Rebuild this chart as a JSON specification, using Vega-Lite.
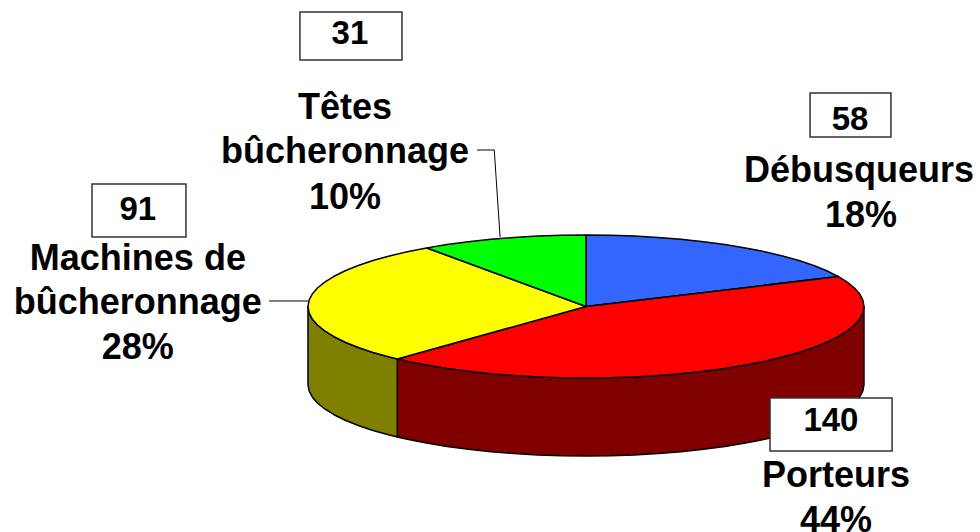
{
"$schema":"https://vega.github.io/schema/vega-lite/v6.json",
"width":980,"height":532,"padding":0,"autosize":"none",
"background":"white",
"config":{"view":{"stroke":null},"font":"Liberation Sans"},
"resolve":{"scale":{"fill":"independent"}},
"datasets":{
"walls":[
{"s":"Porteurs","x":100,"y":0,"b":-109.1},{"s":"Porteurs","x":99.62,"y":-8.72,"b":-117.82},{"s":"Porteurs","x":98.48,"y":-17.36,"b":-126.46},{"s":"Porteurs","x":96.59,"y":-25.88,"b":-134.98},{"s":"Porteurs","x":93.97,"y":-34.2,"b":-143.3},{"s":"Porteurs","x":90.63,"y":-42.26,"b":-151.36},{"s":"Porteurs","x":86.6,"y":-50,"b":-159.1},{"s":"Porteurs","x":81.92,"y":-57.36,"b":-166.46},{"s":"Porteurs","x":76.6,"y":-64.28,"b":-173.38},{"s":"Porteurs","x":70.71,"y":-70.71,"b":-179.81},{"s":"Porteurs","x":64.28,"y":-76.6,"b":-185.7},{"s":"Porteurs","x":57.36,"y":-81.92,"b":-191.02},{"s":"Porteurs","x":50,"y":-86.6,"b":-195.7},{"s":"Porteurs","x":42.26,"y":-90.63,"b":-199.73},{"s":"Porteurs","x":34.2,"y":-93.97,"b":-203.07},{"s":"Porteurs","x":25.88,"y":-96.59,"b":-205.69},{"s":"Porteurs","x":17.36,"y":-98.48,"b":-207.58},{"s":"Porteurs","x":8.72,"y":-99.62,"b":-208.72},{"s":"Porteurs","x":0,"y":-100,"b":-209.1},{"s":"Porteurs","x":-8.72,"y":-99.62,"b":-208.72},{"s":"Porteurs","x":-17.36,"y":-98.48,"b":-207.58},{"s":"Porteurs","x":-25.88,"y":-96.59,"b":-205.69},{"s":"Porteurs","x":-34.2,"y":-93.97,"b":-203.07},{"s":"Porteurs","x":-42.26,"y":-90.63,"b":-199.73},{"s":"Porteurs","x":-50,"y":-86.6,"b":-195.7},{"s":"Porteurs","x":-57.36,"y":-81.92,"b":-191.02},{"s":"Porteurs","x":-64.28,"y":-76.6,"b":-185.7},{"s":"Porteurs","x":-67.88,"y":-73.43,"b":-182.53},
{"s":"Machines","x":-67.88,"y":-73.43,"b":-182.53},{"s":"Machines","x":-70.71,"y":-70.71,"b":-179.81},{"s":"Machines","x":-76.6,"y":-64.28,"b":-173.38},{"s":"Machines","x":-81.92,"y":-57.36,"b":-166.46},{"s":"Machines","x":-86.6,"y":-50,"b":-159.1},{"s":"Machines","x":-90.63,"y":-42.26,"b":-151.36},{"s":"Machines","x":-93.97,"y":-34.2,"b":-143.3},{"s":"Machines","x":-96.59,"y":-25.88,"b":-134.98},{"s":"Machines","x":-98.48,"y":-17.36,"b":-126.46},{"s":"Machines","x":-99.62,"y":-8.72,"b":-117.82},{"s":"Machines","x":-100,"y":0,"b":-109.1}
],
"tops":[
{"s":"Débusqueurs","i":0,"x":0,"y":0},{"s":"Débusqueurs","i":1,"x":0,"y":100},{"s":"Débusqueurs","i":2,"x":8.72,"y":99.62},{"s":"Débusqueurs","i":3,"x":17.36,"y":98.48},{"s":"Débusqueurs","i":4,"x":25.88,"y":96.59},{"s":"Débusqueurs","i":5,"x":34.2,"y":93.97},{"s":"Débusqueurs","i":6,"x":42.26,"y":90.63},{"s":"Débusqueurs","i":7,"x":50,"y":86.6},{"s":"Débusqueurs","i":8,"x":57.36,"y":81.92},{"s":"Débusqueurs","i":9,"x":64.28,"y":76.6},{"s":"Débusqueurs","i":10,"x":70.71,"y":70.71},{"s":"Débusqueurs","i":11,"x":76.6,"y":64.28},{"s":"Débusqueurs","i":12,"x":81.92,"y":57.36},{"s":"Débusqueurs","i":13,"x":86.6,"y":50},{"s":"Débusqueurs","i":14,"x":90.81,"y":41.87},{"s":"Débusqueurs","i":15,"x":0,"y":0},
{"s":"Porteurs","i":0,"x":0,"y":0},{"s":"Porteurs","i":1,"x":90.81,"y":41.87},{"s":"Porteurs","i":2,"x":93.97,"y":34.2},{"s":"Porteurs","i":3,"x":96.59,"y":25.88},{"s":"Porteurs","i":4,"x":98.48,"y":17.36},{"s":"Porteurs","i":5,"x":99.62,"y":8.72},{"s":"Porteurs","i":6,"x":100,"y":0},{"s":"Porteurs","i":7,"x":99.62,"y":-8.72},{"s":"Porteurs","i":8,"x":98.48,"y":-17.36},{"s":"Porteurs","i":9,"x":96.59,"y":-25.88},{"s":"Porteurs","i":10,"x":93.97,"y":-34.2},{"s":"Porteurs","i":11,"x":90.63,"y":-42.26},{"s":"Porteurs","i":12,"x":86.6,"y":-50},{"s":"Porteurs","i":13,"x":81.92,"y":-57.36},{"s":"Porteurs","i":14,"x":76.6,"y":-64.28},{"s":"Porteurs","i":15,"x":70.71,"y":-70.71},{"s":"Porteurs","i":16,"x":64.28,"y":-76.6},{"s":"Porteurs","i":17,"x":57.36,"y":-81.92},{"s":"Porteurs","i":18,"x":50,"y":-86.6},{"s":"Porteurs","i":19,"x":42.26,"y":-90.63},{"s":"Porteurs","i":20,"x":34.2,"y":-93.97},{"s":"Porteurs","i":21,"x":25.88,"y":-96.59},{"s":"Porteurs","i":22,"x":17.36,"y":-98.48},{"s":"Porteurs","i":23,"x":8.72,"y":-99.62},{"s":"Porteurs","i":24,"x":0,"y":-100},{"s":"Porteurs","i":25,"x":-8.72,"y":-99.62},{"s":"Porteurs","i":26,"x":-17.36,"y":-98.48},{"s":"Porteurs","i":27,"x":-25.88,"y":-96.59},{"s":"Porteurs","i":28,"x":-34.2,"y":-93.97},{"s":"Porteurs","i":29,"x":-42.26,"y":-90.63},{"s":"Porteurs","i":30,"x":-50,"y":-86.6},{"s":"Porteurs","i":31,"x":-57.36,"y":-81.92},{"s":"Porteurs","i":32,"x":-64.28,"y":-76.6},{"s":"Porteurs","i":33,"x":-67.88,"y":-73.43},{"s":"Porteurs","i":34,"x":0,"y":0},
{"s":"Machines","i":0,"x":0,"y":0},{"s":"Machines","i":1,"x":-67.88,"y":-73.43},{"s":"Machines","i":2,"x":-70.71,"y":-70.71},{"s":"Machines","i":3,"x":-76.6,"y":-64.28},{"s":"Machines","i":4,"x":-81.92,"y":-57.36},{"s":"Machines","i":5,"x":-86.6,"y":-50},{"s":"Machines","i":6,"x":-90.63,"y":-42.26},{"s":"Machines","i":7,"x":-93.97,"y":-34.2},{"s":"Machines","i":8,"x":-96.59,"y":-25.88},{"s":"Machines","i":9,"x":-98.48,"y":-17.36},{"s":"Machines","i":10,"x":-99.62,"y":-8.72},{"s":"Machines","i":11,"x":-100,"y":0},{"s":"Machines","i":12,"x":-99.62,"y":8.72},{"s":"Machines","i":13,"x":-98.48,"y":17.36},{"s":"Machines","i":14,"x":-96.59,"y":25.88},{"s":"Machines","i":15,"x":-93.97,"y":34.2},{"s":"Machines","i":16,"x":-90.63,"y":42.26},{"s":"Machines","i":17,"x":-86.6,"y":50},{"s":"Machines","i":18,"x":-81.92,"y":57.36},{"s":"Machines","i":19,"x":-76.6,"y":64.28},{"s":"Machines","i":20,"x":-70.71,"y":70.71},{"s":"Machines","i":21,"x":-64.28,"y":76.6},{"s":"Machines","i":22,"x":-57.36,"y":81.92},{"s":"Machines","i":23,"x":0,"y":0},
{"s":"Têtes","i":0,"x":0,"y":0},{"s":"Têtes","i":1,"x":-57.21,"y":82},{"s":"Têtes","i":2,"x":-50,"y":86.6},{"s":"Têtes","i":3,"x":-42.26,"y":90.63},{"s":"Têtes","i":4,"x":-34.2,"y":93.97},{"s":"Têtes","i":5,"x":-25.88,"y":96.59},{"s":"Têtes","i":6,"x":-17.36,"y":98.48},{"s":"Têtes","i":7,"x":-8.72,"y":99.62},{"s":"Têtes","i":8,"x":0,"y":100},{"s":"Têtes","i":9,"x":0,"y":0}
],
"leaders":[
{"s":"Têtes","i":0,"x":-39.2,"y":218.9},{"s":"Têtes","i":1,"x":-33,"y":218.9},{"s":"Têtes","i":2,"x":-30.9,"y":97.2},
{"s":"Machines","i":0,"x":-114,"y":7.7},{"s":"Machines","i":1,"x":-100,"y":7.7}
],
"boxes":[
{"v":31,"x":-102.9,"x2":-66.2,"y":411.9,"y2":344.8,"tx":-84.9,"ty":367.1},
{"v":91,"x":-177.7,"x2":-143.9,"y":171.3,"y2":97.2,"tx":-161.2,"ty":121},
{"v":58,"x":80.6,"x2":109.7,"y":298.6,"y2":237.1,"tx":95,"ty":246.9},
{"v":140,"x":66.2,"x2":110.1,"y":-128,"y2":-202.1,"tx":88.1,"ty":-174.1}
],
"labels":[
{"t":"Têtes","x":-86.7,"y":262.2},{"t":"bûcheronnage","x":-86.7,"y":200.7},{"t":"10%","x":-86.7,"y":136.4},
{"t":"Machines de","x":-161.2,"y":51},{"t":"bûcheronnage","x":-161.2,"y":-10.5},{"t":"28%","x":-161.2,"y":-73.4},
{"t":"Débusqueurs","x":98.2,"y":174.1},{"t":"18%","x":98.9,"y":111.2},
{"t":"Porteurs","x":89.9,"y":-252.4},{"t":"44%","x":89.9,"y":-315.4}
]
},
"layer":[
{"data":{"name":"walls"},"mark":{"type":"area","stroke":"#000","strokeWidth":1.5,"strokeJoin":"round"},
 "encoding":{
  "x":{"field":"x","type":"quantitative","scale":{"domain":[-210.79,141.73],"nice":false,"zero":false},"axis":null},
  "y":{"field":"y","type":"quantitative","scale":{"domain":[-315.38,428.67],"nice":false,"zero":false},"axis":null},
  "y2":{"field":"b"},
  "fill":{"field":"s","type":"nominal","legend":null,"scale":{"domain":["Porteurs","Machines"],"range":["#800000","#808000"]}}
 }},
{"data":{"name":"tops"},"mark":{"type":"line","stroke":"#000","strokeWidth":1.5,"strokeJoin":"round"},
 "encoding":{
  "x":{"field":"x","type":"quantitative","axis":null},
  "y":{"field":"y","type":"quantitative","axis":null},
  "order":{"field":"i","type":"quantitative"},
  "detail":{"field":"s"},
  "fill":{"field":"s","type":"nominal","legend":null,"scale":{"domain":["Débusqueurs","Porteurs","Machines","Têtes"],"range":["#3366FF","#FF0000","#FFFF00","#00FF00"]}}
 }},
{"data":{"name":"leaders"},"mark":{"type":"line","stroke":"#000","strokeWidth":1},
 "encoding":{
  "x":{"field":"x","type":"quantitative","axis":null},
  "y":{"field":"y","type":"quantitative","axis":null},
  "order":{"field":"i","type":"quantitative"},
  "detail":{"field":"s"}
 }},
{"data":{"name":"boxes"},"mark":{"type":"rect","fill":"#fff","stroke":"#333","strokeWidth":1.5},
 "encoding":{
  "x":{"field":"x","type":"quantitative","axis":null},"x2":{"field":"x2"},
  "y":{"field":"y","type":"quantitative","axis":null},"y2":{"field":"y2"}
 }},
{"data":{"name":"boxes"},"mark":{"type":"text","fontSize":33,"fontWeight":"bold","font":"Liberation Sans","baseline":"alphabetic","align":"center","color":"#000"},
 "encoding":{
  "x":{"field":"tx","type":"quantitative","axis":null},
  "y":{"field":"ty","type":"quantitative","axis":null},
  "text":{"field":"v","type":"quantitative"}
 }},
{"data":{"name":"labels"},"mark":{"type":"text","fontSize":36,"fontWeight":"bold","font":"Liberation Sans","baseline":"alphabetic","align":"center","color":"#000"},
 "encoding":{
  "x":{"field":"x","type":"quantitative","axis":null},
  "y":{"field":"y","type":"quantitative","axis":null},
  "text":{"field":"t","type":"nominal"}
 }}
]
}
